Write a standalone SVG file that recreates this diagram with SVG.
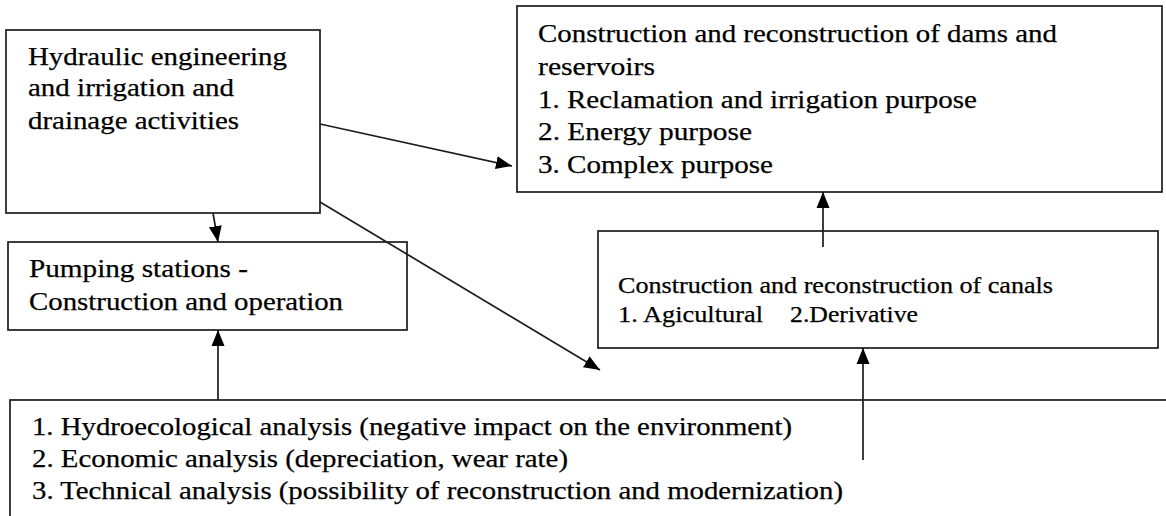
<svg xmlns="http://www.w3.org/2000/svg" width="1166" height="516" viewBox="0 0 1166 516">
  <style>
    .box { fill: #ffffff; stroke: #1c1c1c; stroke-width: 1.7; }
    .t { font-family: 'Liberation Serif', 'Times New Roman', Times, serif; font-size: 26px; fill: #000000; stroke: #000000; stroke-width: 0.25; }
    .ts { font-family: 'Liberation Serif', 'Times New Roman', Times, serif; font-size: 24px; fill: #000000; stroke: #000000; stroke-width: 0.25; }
    .link { stroke: #1c1c1c; stroke-width: 1.7; fill: none; marker-end: url(#arrow); }
  </style>
  <defs>
    <marker id="arrow" markerUnits="userSpaceOnUse" markerWidth="17" markerHeight="14" refX="16" refY="7" orient="auto">
      <path d="M0,0.5 L16,7 L0,13.5 Z" fill="#000000"/>
    </marker>
  </defs>

  <rect x="0" y="0" width="1166" height="516" fill="#ffffff"/>

  <!-- analysis block along the bottom edge -->
  <g id="analysis">
    <rect class="box" x="10" y="400" width="1200" height="200"/>
    <text class="t" x="32" y="435" textLength="760" lengthAdjust="spacingAndGlyphs">1. Hydroecological analysis (negative impact on the environment)</text>
    <text class="t" x="32" y="467" textLength="536" lengthAdjust="spacingAndGlyphs">2. Economic analysis (depreciation, wear rate)</text>
    <text class="t" x="32" y="499" textLength="811" lengthAdjust="spacingAndGlyphs">3. Technical analysis (possibility of reconstruction and modernization)</text>
  </g>

  <g id="hydraulic">
    <rect class="box" x="6" y="30" width="314" height="183"/>
    <text class="t" x="28" y="65" textLength="259" lengthAdjust="spacingAndGlyphs">Hydraulic engineering</text>
    <text class="t" x="28" y="96" textLength="206" lengthAdjust="spacingAndGlyphs">and irrigation and</text>
    <text class="t" x="28" y="129" textLength="211" lengthAdjust="spacingAndGlyphs">drainage activities</text>
  </g>

  <g id="dams">
    <rect class="box" x="517" y="6" width="645" height="186"/>
    <text class="t" x="538" y="42" textLength="519" lengthAdjust="spacingAndGlyphs">Construction and reconstruction of dams and</text>
    <text class="t" x="538" y="75" textLength="117" lengthAdjust="spacingAndGlyphs">reservoirs</text>
    <text class="t" x="538" y="108" textLength="439" lengthAdjust="spacingAndGlyphs">1. Reclamation and irrigation purpose</text>
    <text class="t" x="538" y="140" textLength="214" lengthAdjust="spacingAndGlyphs">2. Energy purpose</text>
    <text class="t" x="538" y="173" textLength="235" lengthAdjust="spacingAndGlyphs">3. Complex purpose</text>
  </g>

  <g id="pumping">
    <rect class="box" x="8" y="242" width="399" height="88"/>
    <text class="t" x="29" y="277" textLength="219" lengthAdjust="spacingAndGlyphs">Pumping stations -</text>
    <text class="t" x="29" y="310" textLength="314" lengthAdjust="spacingAndGlyphs">Construction and operation</text>
  </g>

  <g id="canals">
    <rect class="box" x="598" y="231" width="560" height="117"/>
    <text class="ts" x="618" y="293" textLength="435" lengthAdjust="spacingAndGlyphs">Construction and reconstruction of canals</text>
    <text class="ts" x="618" y="322" textLength="145" lengthAdjust="spacingAndGlyphs">1. Agicultural</text>
    <text class="ts" x="790" y="322" textLength="128" lengthAdjust="spacingAndGlyphs">2.Derivative</text>
  </g>

  <g id="connectors">
    <line class="link" x1="320" y1="124" x2="512" y2="166"/>
    <line class="link" x1="213" y1="213" x2="218" y2="242"/>
    <line class="link" x1="320" y1="202" x2="600" y2="370"/>
    <line class="link" x1="823" y1="247" x2="823" y2="192"/>
    <line class="link" x1="218" y1="400" x2="218" y2="330"/>
    <line class="link" x1="863" y1="460" x2="863" y2="348"/>
  </g>
</svg>
